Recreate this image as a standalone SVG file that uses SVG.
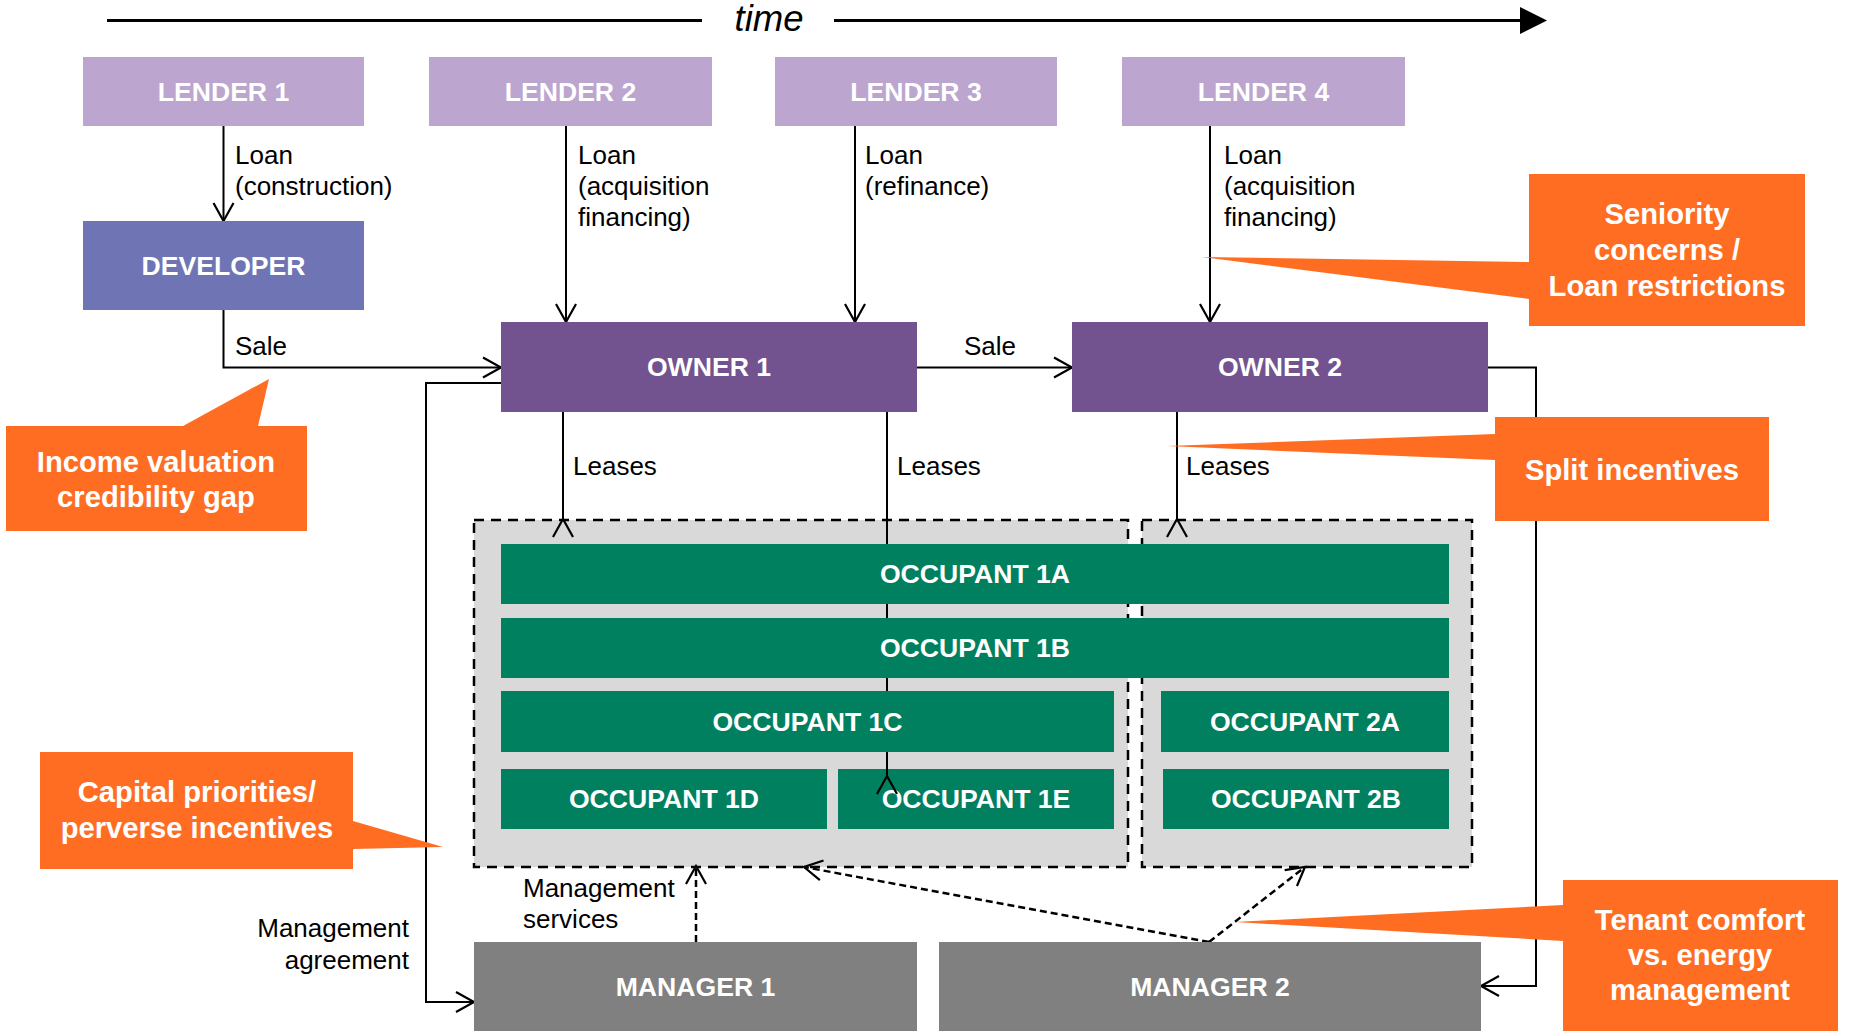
<svg xmlns="http://www.w3.org/2000/svg" width="1860" height="1031" viewBox="0 0 1860 1031">
<defs>
<style>
.lbl{font-family:"Liberation Sans",Arial,sans-serif;font-weight:bold;font-size:26.6px;fill:#fff;text-anchor:middle;dominant-baseline:central}
.txt{font-family:"Liberation Sans",Arial,sans-serif;font-size:26px;fill:#000}
.co{font-family:"Liberation Sans",Arial,sans-serif;font-weight:bold;font-size:29.2px;fill:#fff;text-anchor:middle}
.lender{fill:#BCA5CE}
.dev{fill:#6F75B4}
.owner{fill:#72538F}
.occ{fill:#01805F}
.mgr{fill:#808080}
.call{fill:#FF6D22}
.cont{fill:#D9D9D9;stroke:#000;stroke-width:2.5;stroke-dasharray:10 7}
.ln{fill:none;stroke:#000;stroke-width:2}
.dl{fill:none;stroke:#000;stroke-width:2.5;stroke-dasharray:7 4}
</style>
<marker id="arr" markerUnits="userSpaceOnUse" markerWidth="24" markerHeight="24" refX="19" refY="11" orient="auto" overflow="visible">
<path d="M1,1 L19,11 L1,21" fill="none" stroke="#000" stroke-width="2.2" stroke-dasharray="none"/>
</marker>
</defs>
<rect width="1860" height="1031" fill="#fff"/>

<g id="timeline">
<line x1="107" y1="20.5" x2="702" y2="20.5" stroke="#000" stroke-width="3"/>
<line x1="834" y1="20.5" x2="1522" y2="20.5" stroke="#000" stroke-width="3"/>
<polygon points="1520,7 1547,20.5 1520,34" fill="#000"/>
<text x="769" y="31" font-family="Liberation Sans, Arial, sans-serif" font-style="italic" font-size="36.5" text-anchor="middle">time</text>
</g>

<g id="container-1"><rect class="cont" x="474" y="520" width="654" height="347"/></g>
<g id="container-2"><rect class="cont" x="1142" y="520" width="330" height="347"/></g>

<g id="connectors">
<path class="ln" d="M223.5,126 V221" marker-end="url(#arr)"/>
<path class="ln" d="M566,126 V322" marker-end="url(#arr)"/>
<path class="ln" d="M855,126 V322" marker-end="url(#arr)"/>
<path class="ln" d="M1210,126 V322" marker-end="url(#arr)"/>
<path class="ln" d="M223.5,310 V367.5 H501" marker-end="url(#arr)"/>
<path class="ln" d="M917,367.5 H1072" marker-end="url(#arr)"/>
<path class="ln" d="M1488,367.5 H1536 V986 H1481" marker-end="url(#arr)"/>
<path class="ln" d="M501,383 H426 V1002 H474" marker-end="url(#arr)"/>
<path class="ln" d="M563,519 V412" marker-start="url(#arr)"/>
<path class="ln" d="M887,776 V412"/>
<path class="ln" d="M1177,519 V412" marker-start="url(#arr)"/>
<path class="dl" d="M696,942 V866" marker-end="url(#arr)"/>
<path class="dl" d="M1209,942 L804,867" marker-end="url(#arr)"/>
<path class="dl" d="M1209,942 L1305,867" marker-end="url(#arr)"/>
<text class="txt"><tspan x="235" y="164">Loan</tspan><tspan x="235" y="195">(construction)</tspan></text>
<text class="txt"><tspan x="578" y="164">Loan</tspan><tspan x="578" y="195">(acquisition</tspan><tspan x="578" y="226">financing)</tspan></text>
<text class="txt"><tspan x="865" y="164">Loan</tspan><tspan x="865" y="195">(refinance)</tspan></text>
<text class="txt"><tspan x="1224" y="164">Loan</tspan><tspan x="1224" y="195">(acquisition</tspan><tspan x="1224" y="226">financing)</tspan></text>
<text class="txt" x="235" y="355">Sale</text>
<text class="txt" x="964" y="355">Sale</text>
<text class="txt" x="573" y="475">Leases</text>
<text class="txt" x="897" y="475">Leases</text>
<text class="txt" x="1186" y="475">Leases</text>
<text class="txt"><tspan x="523" y="897">Management</tspan><tspan x="523" y="928">services</tspan></text>
<text class="txt" text-anchor="end"><tspan x="409" y="937">Management</tspan><tspan x="409" y="969">agreement</tspan></text>
</g>

<g id="lender-1"><rect class="lender" x="83" y="57" width="281" height="69"/><text class="lbl" x="223.5" y="92">LENDER 1</text></g>
<g id="lender-2"><rect class="lender" x="429" y="57" width="283" height="69"/><text class="lbl" x="570.5" y="92">LENDER 2</text></g>
<g id="lender-3"><rect class="lender" x="775" y="57" width="282" height="69"/><text class="lbl" x="916" y="92">LENDER 3</text></g>
<g id="lender-4"><rect class="lender" x="1122" y="57" width="283" height="69"/><text class="lbl" x="1263.5" y="92">LENDER 4</text></g>
<g id="developer"><rect class="dev" x="83" y="221" width="281" height="89"/><text class="lbl" x="223.5" y="266">DEVELOPER</text></g>
<g id="owner-1"><rect class="owner" x="501" y="322" width="416" height="90"/><text class="lbl" x="709" y="367">OWNER 1</text></g>
<g id="owner-2"><rect class="owner" x="1072" y="322" width="416" height="90"/><text class="lbl" x="1280" y="367">OWNER 2</text></g>
<g id="occupant-1a"><rect class="occ" x="501" y="544" width="948" height="60"/><text class="lbl" x="975" y="574">OCCUPANT 1A</text></g>
<g id="occupant-1b"><rect class="occ" x="501" y="618" width="948" height="60"/><text class="lbl" x="975" y="648">OCCUPANT 1B</text></g>
<g id="occupant-1c"><rect class="occ" x="501" y="691" width="613" height="61"/><text class="lbl" x="807.5" y="721.5">OCCUPANT 1C</text></g>
<g id="occupant-2a"><rect class="occ" x="1161" y="691" width="288" height="61"/><text class="lbl" x="1305" y="721.5">OCCUPANT 2A</text></g>
<g id="occupant-1d"><rect class="occ" x="501" y="769" width="326" height="60"/><text class="lbl" x="664" y="799">OCCUPANT 1D</text></g>
<g id="occupant-1e"><rect class="occ" x="838" y="769" width="276" height="60"/><text class="lbl" x="976" y="799">OCCUPANT 1E</text></g>
<g id="occupant-2b"><rect class="occ" x="1163" y="769" width="286" height="60"/><text class="lbl" x="1306" y="799">OCCUPANT 2B</text></g>
<g id="manager-1"><rect class="mgr" x="474" y="942" width="443" height="89"/><text class="lbl" x="695.5" y="987">MANAGER 1</text></g>
<g id="manager-2"><rect class="mgr" x="939" y="942" width="542" height="89"/><text class="lbl" x="1210" y="987">MANAGER 2</text></g>

<g id="connector-overlay">
<path class="ln" d="M887,776 V769" marker-start="url(#arr)"/>
</g>

<g id="callout-income"><path class="call" d="M6,426 H183 L269,379 L258,426 H307 V531 H6 Z"/><text class="co"><tspan x="156" y="472">Income valuation</tspan><tspan x="156" y="507">credibility gap</tspan></text></g>
<g id="callout-seniority"><path class="call" d="M1529,174 H1805 V326 H1529 V299 L1202,257 L1529,262 Z"/><text class="co"><tspan x="1667" y="224">Seniority</tspan><tspan x="1667" y="260">concerns /</tspan><tspan x="1667" y="296">Loan restrictions</tspan></text></g>
<g id="callout-split"><path class="call" d="M1495,417 H1769 V521 H1495 V460 L1167,446 L1495,434 Z"/><text class="co" x="1632" y="480">Split incentives</text></g>
<g id="callout-capital"><path class="call" d="M40,752 H353 V821 L443,847 L353,849 V869 H40 Z"/><text class="co"><tspan x="197" y="802">Capital priorities/</tspan><tspan x="197" y="838">perverse incentives</tspan></text></g>
<g id="callout-tenant"><path class="call" d="M1563,880 H1838 V1031 H1563 V941 L1235,922 L1563,905 Z"/><text class="co"><tspan x="1700" y="930">Tenant comfort</tspan><tspan x="1700" y="965">vs. energy</tspan><tspan x="1700" y="1000">management</tspan></text></g>
</svg>
